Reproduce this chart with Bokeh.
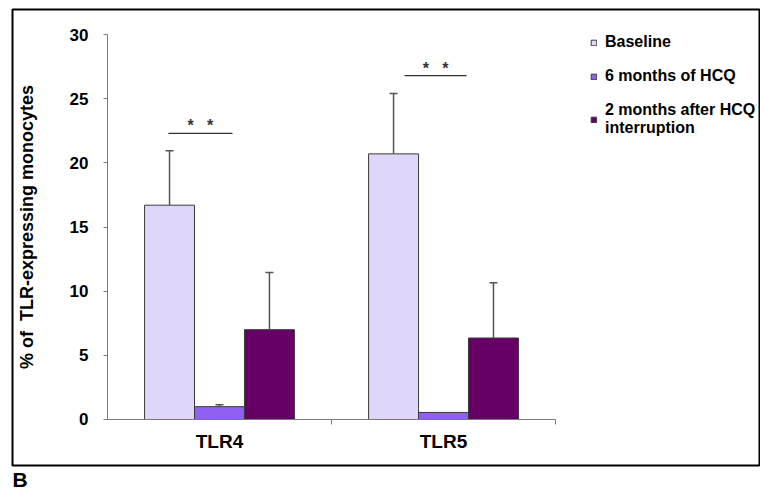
import numpy as np
from bokeh.plotting import figure
from bokeh.models import (ColumnDataSource, LinearAxis, FixedTicker, Whisker, TeeHead,
                          Legend, LegendItem, Title, Range1d)
from bokeh.core.properties import value
from bokeh.embed import file_html
from bokeh.resources import INLINE

# ---- data ----
categories = ["TLR4", "TLR5"]
series_names = ["Baseline", "6 months of HCQ", "2 months after HCQ\ninterruption"]
baseline = [16.7, 20.7]
baseline_err = [4.25, 4.7]
hcq6 = [1.0, 0.55]
hcq6_err = [0.15, 0.0]
after = [7.0, 6.35]
after_err = [4.45, 4.3]
y_ticks = [0, 5, 10, 15, 20, 25, 30]
sig_y = [22.3, 26.8]
sig_x0 = [-0.228, -0.174]   # relative to category centre
sig_x1 = [0.058, 0.103]
sig_label = ["*\u00a0\u00a0\u00a0*", "*\u00a0\u00a0\u00a0*"]
y_label = "% of\u00a0 TLR-expressing monocytes"
panel_letter = "B"

colors = ["#E0D6FA", "#8F60F2", "#660066"]
FONT = "Liberation Sans"
W, H = 760, 491

p = figure(width=W, height=H, output_backend="svg", toolbar_location=None,
           x_range=Range1d(-0.424, 2.915), y_range=Range1d(-3.585, 31.95),
           x_axis_type=None, y_axis_type=None,
           min_border_left=12, min_border_right=0, min_border_top=9, min_border_bottom=26)
p.outline_line_color = "black"
p.outline_line_width = 2
p.background_fill_color = "white"
p.border_fill_color = "white"

# axes
yaxis = LinearAxis(fixed_location=0, bounds=(0, 30), ticker=FixedTicker(ticks=y_ticks),
                   axis_label=y_label)
yaxis.axis_line_color = "#7a7a7a"
yaxis.major_tick_line_color = "#7a7a7a"
yaxis.major_tick_in = 0
yaxis.major_tick_out = 4
yaxis.minor_tick_line_color = None
yaxis.major_label_standoff = 15
yaxis.major_label_text_font = FONT
yaxis.major_label_text_font_style = "bold"
yaxis.major_label_text_font_size = "17px"
yaxis.major_label_text_color = "black"
yaxis.axis_label_text_font = FONT
yaxis.axis_label_text_font_style = "bold"
yaxis.axis_label_text_font_size = "18px"
yaxis.axis_label_text_color = "black"
yaxis.axis_label_standoff = 30
p.add_layout(yaxis, "left")

centers = np.arange(len(categories)) + 0.5
xaxis = LinearAxis(fixed_location=0, bounds=(0, len(categories)),
                   ticker=FixedTicker(ticks=list(centers),
                                      minor_ticks=list(np.arange(1, len(categories) + 1))),
                   major_label_overrides={float(c): n for c, n in zip(centers, categories)})
xaxis.axis_line_color = "#7a7a7a"
xaxis.major_tick_line_color = None
xaxis.major_tick_in = 0
xaxis.major_tick_out = 0
xaxis.minor_tick_line_color = "#7a7a7a"
xaxis.minor_tick_in = 0
xaxis.minor_tick_out = 5
xaxis.major_label_standoff = 7
xaxis.major_label_text_font = FONT
xaxis.major_label_text_font_style = "bold"
xaxis.major_label_text_font_size = "19px"
xaxis.major_label_text_color = "black"
p.add_layout(xaxis, "below")

# bars
values = [baseline, hcq6, after]
errors = [baseline_err, hcq6_err, after_err]
offsets = [-0.223, 0.0, 0.223]
bw = 0.223
items = []
for name, vals, errs, off, col in zip(series_names, values, errors, offsets, colors):
    vals = np.array(vals)
    errs = np.array(errs)
    src = ColumnDataSource(dict(x=centers + off, top=vals))
    r = p.vbar(x="x", top="top", width=bw, bottom=0, source=src,
               fill_color=col, line_color="#3a3a3a", line_width=1)
    m = errs > 0
    wsrc = ColumnDataSource(dict(x=(centers + off)[m], upper=(vals + errs)[m], lower=vals[m]))
    w = Whisker(base="x", upper="upper", lower="lower", source=wsrc,
                upper_head=TeeHead(size=8, line_color="#555555", line_width=1.5),
                lower_head=None, line_color="#555555", line_width=1.5, level="glyph")
    p.add_layout(w)
    items.append(LegendItem(label=name, renderers=[r]))

# significance
sx0 = centers + np.array(sig_x0)
sx1 = centers + np.array(sig_x1)
p.segment(x0=sx0, y0=sig_y, x1=sx1, y1=sig_y, line_color="#333333", line_width=1.2)
p.text(x=(sx0 + sx1) / 2, y=sig_y, text=sig_label, text_align="center",
       text_baseline="bottom", text_font=value(FONT), text_font_size="16px",
       text_font_style="bold", text_color="#333333", y_offset=1)

legend = Legend(items=items, location=(578, 328), orientation="vertical")
legend.label_text_font = FONT
legend.label_text_font_style = "bold"
legend.label_text_font_size = "16px"
legend.label_text_color = "black"
legend.glyph_width = 7
legend.glyph_height = 7
legend.label_standoff = 8
legend.label_height = 17
legend.spacing = 16
legend.padding = 0
legend.margin = 0
legend.border_line_color = None
legend.background_fill_alpha = 0
p.add_layout(legend)

p.add_layout(Title(text=panel_letter, align="left", text_font=FONT, text_font_style="bold",
                   text_font_size="21px", text_color="black", standoff=0, offset=0), "below")

open("out.html", "w").write(file_html(p, INLINE))
